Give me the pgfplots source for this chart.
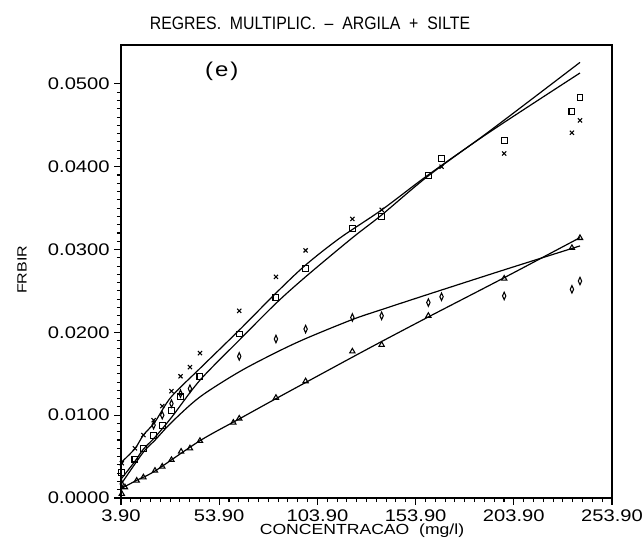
\documentclass[border=0pt]{standalone}
\usepackage{fontspec}
\setmainfont{Liberation Sans}[FakeStretch=1.2]
\newfontfamily\titlefont{Liberation Sans}[FakeStretch=0.88]
\usepackage{pgfplots}
\pgfplotsset{compat=1.18}
\begin{document}
\begin{tikzpicture}[x=0.75pt,y=0.75pt]
\useasboundingbox (-121,-48) rectangle (521,498);
\begin{axis}[at={(0,0)},anchor=south west,scale only axis,
  width=368.25pt,height=339.75pt,
  xmin=3.9,xmax=253.9,ymin=0,ymax=0.0547,
  xtick={3.9,53.9,103.9,153.9,203.9,253.9},
  ytick={0,0.01,0.02,0.03,0.04,0.05},
  minor x tick num=9, minor y tick num=9,
  tick align=outside, xtick pos=bottom, ytick pos=left,
  major tick length=5pt, minor tick length=3pt,
  every tick/.style={black,line width=0.8pt},
  scaled y ticks=false, scaled x ticks=false,
  xticklabel style={/pgf/number format/.cd,fixed,fixed zerofill,precision=2,assume math mode=true},
  yticklabel style={/pgf/number format/.cd,fixed,fixed zerofill,precision=4,assume math mode=true},
  tick label style={font=\fontsize{12.6}{14}\selectfont},
  axis line style={line width=1.1pt},
  clip=false,
]
% fitted curves
\addplot[line width=0.9pt,smooth,no marks] coordinates {
(4.26,0.00435)(11.03,0.00597)(15.25,0.00758)(21.21,0.00919)(29.36,0.01218)(44.12,0.01565)
(64.13,0.02028)(82.82,0.02475)(97.94,0.02814)(115.4,0.0314)(136.64,0.03479)(160.37,0.03902)
(191.78,0.04422)(237.6,0.05132)};
\addplot[line width=0.9pt,smooth,no marks] coordinates {
(4.26,0.00238)(11.03,0.00444)(15.25,0.00589)(21.21,0.00734)(29.72,0.00976)(44.12,0.01423)
(64.13,0.01907)(82.82,0.02351)(97.94,0.02672)(121.6,0.0314)(136.64,0.03418)(160.37,0.0389)
(191.78,0.04434)(237.6,0.0526)};
\addplot[line width=0.9pt,smooth,no marks] coordinates {
(4.26,0.00178)(15.25,0.00553)(21.21,0.00698)(29.72,0.00915)(44.12,0.01221)(64.13,0.01524)
(82.67,0.01755)(97.94,0.01925)(121.7,0.02155)(136.6,0.02275)(160.4,0.02460)
(199.0,0.02755)(237.6,0.03044)};
\addplot[line width=0.9pt,smooth,no marks] coordinates {
(4.26,0.00117)(11.89,0.00214)(21.21,0.00326)(44.12,0.00692)(64.5,0.00960)(82.82,0.01200)
(97.94,0.01395)(121.67,0.01700)(136.64,0.01890)(160.7,0.02190)(199.0,0.02660)(237.6,0.03144)};
% data points
\addplot[only marks,mark=x,mark size=2.2pt,mark options={line width=0.8pt}] coordinates {
(4.3,0.0042)(11.0,0.0060)(15.3,0.0076)(20.5,0.0094)(24.9,0.0111)(29.6,0.0129)(34.2,0.0147)
(39.0,0.0158)(44.1,0.0175)(64.1,0.0226)(82.8,0.0267)(97.9,0.0299)(121.7,0.0337)(136.6,0.0348)
(167.1,0.0400)(199.0,0.0416)(233.5,0.0441)(237.6,0.0456)};
\addplot[only marks,mark=square,mark size=2.2pt,mark options={line width=0.8pt}] coordinates {
(4.3,0.0031)(11.0,0.0047)(15.3,0.0060)(20.5,0.0075)(24.9,0.0088)(29.6,0.0106)(34.2,0.0122)
(44.1,0.0147)(64.1,0.0198)(82.8,0.0242)(97.9,0.0277)(121.7,0.0325)(136.6,0.0340)(160.4,0.0389)
(167.1,0.0410)(199.0,0.0432)(233.5,0.0467)(237.6,0.0484)};
\addplot[only marks,mark=diamond,mark size=2.8pt,mark options={line width=0.8pt,xscale=0.6}] coordinates {
(4.3,0.0017)(20.5,0.0088)(24.9,0.0100)(29.6,0.0114)(34.2,0.0126)(39.0,0.0132)(64.1,0.0171)
(82.8,0.0192)(97.9,0.0204)(121.7,0.0218)(136.6,0.0220)(160.4,0.0236)(167.1,0.0243)(199.0,0.0244)
(233.5,0.0252)(237.6,0.0262)};
\addplot[only marks,mark=triangle,mark size=2.3pt,mark options={line width=0.8pt}] coordinates {
(4.3,0.0005)(5.9,0.0013)(11.9,0.0021)(15.3,0.0025)(21.2,0.0033)(24.9,0.0038)(29.6,0.0046)
(34.5,0.0056)(39.0,0.0060)(44.1,0.0069)(61.1,0.0091)(64.1,0.0096)(82.8,0.0121)(97.9,0.0141)
(121.7,0.0177)(136.6,0.0185)(160.4,0.0220)(199.0,0.0265)(233.5,0.0302)(237.6,0.0314)};
\node[font=\fontsize{15}{17}\selectfont] at (axis cs:55.2,0.0515) {(\kern1.5pt e\kern1.5pt)};
\end{axis}
\node[font=\titlefont\fontsize{13.5}{15}\selectfont] at (189,475) {REGRES.\ \ MULTIPLIC.\ \ \textendash\ \ ARGILA\ \ +\ \ SILTE};
\node[font=\fontsize{11}{13}\selectfont] at (241,-33) {CONCENTRACAO\ \ (mg/l)};
\node[font=\fontsize{10}{12}\selectfont,rotate=90] at (-99,228) {FRBIR};
\end{tikzpicture}
\end{document}
